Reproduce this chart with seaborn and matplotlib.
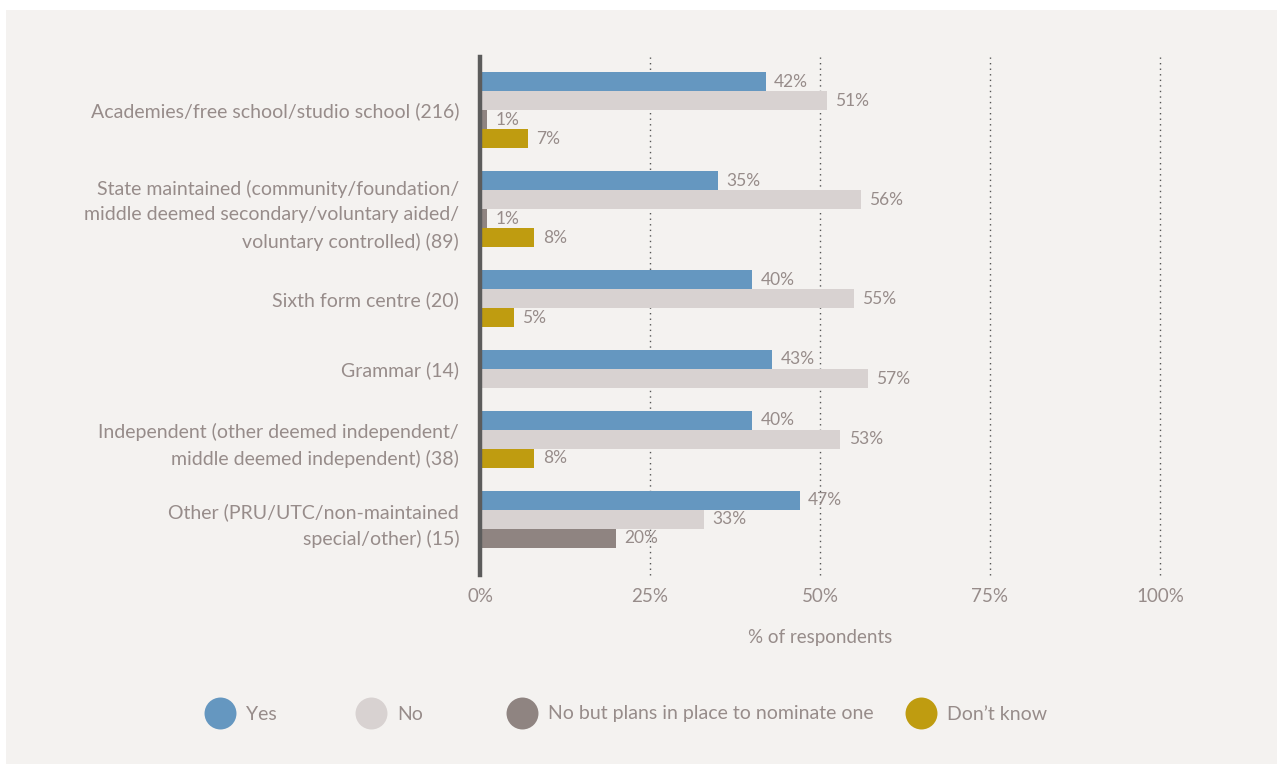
import numpy as np
import pandas as pd
import matplotlib
matplotlib.use("Agg")
import matplotlib.pyplot as plt
from matplotlib.patches import Rectangle
from matplotlib.lines import Line2D
import seaborn as sns

# School types (number of respondents in brackets)
categories = [
    "Academies/free school/studio school (216)",
    "State maintained (community/foundation/\nmiddle deemed secondary/voluntary aided/\nvoluntary controlled) (89)",
    "Sixth form centre (20)",
    "Grammar (14)",
    "Independent (other deemed independent/\nmiddle deemed independent) (38)",
    "Other (PRU/UTC/non-maintained\nspecial/other) (15)",
]
responses = ["Yes", "No", "No but plans in place to nominate one", "Don\u2019t know"]

yes = [42, 35, 40, 43, 40, 47]
no = [51, 56, 55, 57, 53, 33]
plans = [1, 1, 0, 0, 0, 20]
dont_know = [7, 8, 5, 0, 8, 0]

x_ticks = [0, 25, 50, 75, 100]
x_tick_labels = ["0%", "25%", "50%", "75%", "100%"]

colors = ["#6597c0", "#d8d2d1", "#8f8481", "#bf9c10"]
text_color = "#978c8a"
panel_color = "#f4f2f0"

sns.set_theme(style="white")
plt.rcParams["font.family"] = ["Lato", "DejaVu Sans"]

# Long-form table: only answers actually given are drawn, packed within each group
GROUP_GAP = 1.2
rows = []
group_centres = []
pos = 0.0
for i, cat in enumerate(categories):
    vals = [yes[i], no[i], plans[i], dont_know[i]]
    start = pos
    for resp, v in zip(responses, vals):
        if v > 0:
            rows.append({"school": cat, "response": resp, "value": v, "pos": pos})
            pos += 1
    group_centres.append((start + pos - 1) / 2)
    pos += GROUP_GAP
df = pd.DataFrame(rows)
last_pos = df["pos"].max()

fig = plt.figure(figsize=(12.8, 7.65), dpi=100, facecolor="white")
fig.add_artist(Rectangle((6 / 1280, 1 - 764 / 765), 1271 / 1280, 754 / 765,
                         transform=fig.transFigure, facecolor=panel_color,
                         edgecolor="none", zorder=-10))

ax = fig.add_axes([480 / 1280, 1 - 575 / 765, 680 / 1280, 518 / 765])
ax.set_facecolor("none")

sns.barplot(data=df, x="value", y="pos", hue="response", hue_order=responses,
            palette=colors, orient="y", native_scale=True, dodge=False,
            width=1.0, errorbar=None, legend=False, saturation=1,
            linewidth=0, ax=ax, zorder=3)

for cont in ax.containers:
    ax.bar_label(cont, labels=[f"{int(round(b.get_width()))}%" for b in cont],
                 padding=6, color=text_color, fontsize=12.5, clip_on=False)

ax.set_xlim(0, 100)
ax.set_ylim(last_pos + 0.5 + 1.42, -0.5 - 0.79)

ax.set_xticks(x_ticks)
ax.set_xticklabels(x_tick_labels)
ax.set_yticks(group_centres)
ax.set_yticklabels(categories, linespacing=1.62, ha="right")

ax.tick_params(axis="x", length=0, pad=9, labelsize=13.5, labelcolor=text_color)
ax.tick_params(axis="y", length=0, pad=15, labelsize=14, labelcolor=text_color)

ax.xaxis.grid(True, color="#555555", linestyle=(0, (1, 3)), linewidth=1.0, zorder=0)
for gl in ax.get_xgridlines():
    gl.set_clip_on(False)
ax.yaxis.grid(False)
for side in ["top", "right", "bottom"]:
    ax.spines[side].set_visible(False)
ax.spines["left"].set_color("#5c5c5c")
ax.spines["left"].set_linewidth(3.2)
ax.spines["left"].set_zorder(5)

ax.set_xlabel("% of respondents", fontsize=13.5, color=text_color, labelpad=18)
ax.set_ylabel("")

# Legend: one entry per answer, circles followed by labels
legend_left = [204, 355, 506, 905]
for resp, col, lx in zip(responses, colors, legend_left):
    handle = Line2D([], [], linestyle="none", marker="o", markersize=23,
                    markerfacecolor=col, markeredgewidth=0)
    fig.legend(handles=[handle], labels=[resp], loc="center left",
               bbox_to_anchor=(lx / 1280, 1 - 714 / 765), frameon=False,
               borderpad=0, borderaxespad=0, handletextpad=0.55, handlelength=1.6,
               labelcolor=text_color, fontsize=14)

fig.savefig("out.png", dpi=100, facecolor=fig.get_facecolor())
